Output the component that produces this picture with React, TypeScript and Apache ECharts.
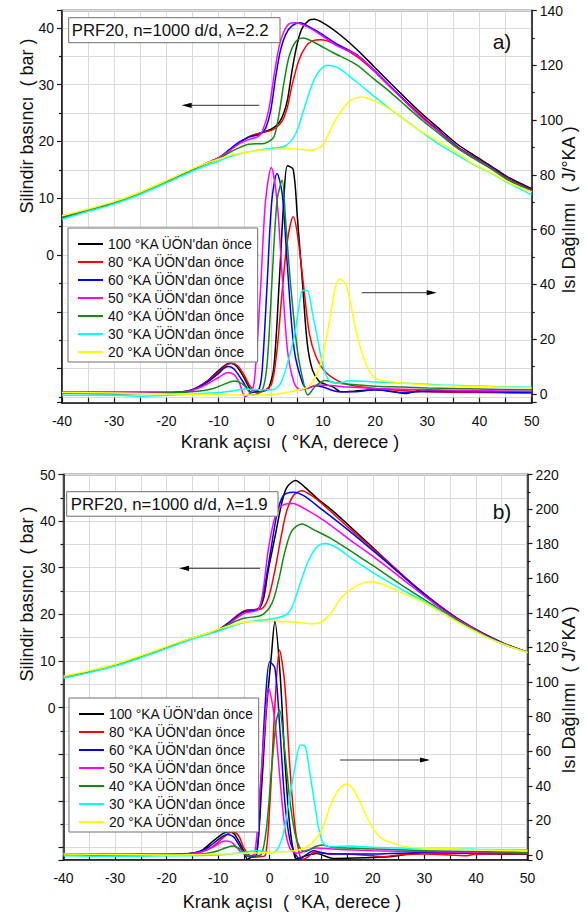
import React, { useEffect, useRef } from "react";
import * as echarts from "echarts";

const FONT = "'Liberation Sans', Arial, sans-serif";

const seriesNames = [
  "100 °KA ÜÖN'dan önce",
  "80 °KA ÜÖN'dan önce",
  "60 °KA ÜÖN'dan önce",
  "50 °KA ÜÖN'dan önce",
  "40 °KA ÜÖN'dan önce",
  "30 °KA ÜÖN'dan önce",
  "20 °KA ÜÖN'dan önce",
];
const seriesColors = ["#000000", "#ff0000", "#0000ff", "#ff00ff", "#138a13", "#00ffff", "#ffff00"];

// ---------- panel a) pressure (bar) ----------
const aP100 = [[-40,6.6],[-35,7.9],[-30,9.2],[-25,10.9],[-20,12.9],[-15,15.0],[-12,16.3],[-10,17.1],[-8,18.4],[-6,19.8],[-4,20.9],[-2,21.5],[0,22.1],[1.5,23.2],[2.5,25.0],[3.2,27.3],[4.1,32.6],[5.1,37.3],[6,39.9],[7.3,41.3],[8.3,41.5],[10.5,40.6],[13.5,38.6],[16.6,36.1],[19.75,33.2],[23,30.2],[26.2,27.3],[29.3,24.6],[32.6,22.0],[35.75,19.5],[38.9,17.6],[42,15.8],[45.3,13.8],[50,11.7]];
const aP80 = [[-40,6.6],[-35,7.9],[-30,9.2],[-25,10.9],[-20,12.9],[-15,15.0],[-12,16.3],[-10,17.1],[-8,18.4],[-6,19.8],[-4,20.9],[-2,21.5],[0,21.9],[1,22.4],[2.2,23.6],[3.2,26.1],[4.1,30.0],[5.4,34.3],[6.7,36.7],[8,37.7],[9.6,37.9],[12.4,37.1],[16.6,34.9],[19.75,32.4],[23,29.5],[26.2,26.8],[29.3,24.2],[32.6,21.6],[35.75,19.1],[38.9,17.3],[42,15.6],[45.3,13.6],[50,11.5]];
const aP60 = [[-40,6.6],[-35,7.9],[-30,9.2],[-25,10.9],[-20,12.9],[-15,15.0],[-12,16.3],[-10,17.1],[-8,18.5],[-6,19.9],[-4,20.8],[-2,21.3],[-1,22.3],[0,25.5],[0.95,31.4],[1.9,36.2],[2.9,38.9],[4.1,40.4],[5.7,40.9],[7.3,40.2],[9.8,38.9],[12.4,37.3],[16.6,35.2],[19.75,32.6],[23,29.6],[26.2,26.7],[29.3,24.0],[32.6,21.5],[35.75,19.0],[38.9,17.2],[42,15.5],[45.3,13.5],[50,11.4]];
const aP50 = [[-40,6.6],[-35,7.9],[-30,9.2],[-25,10.9],[-20,12.9],[-15,15.0],[-12,16.3],[-10,17.1],[-8,18.3],[-6,19.6],[-4,20.4],[-2.5,20.8],[-1.6,21.8],[-0.4,25.5],[0.6,31.4],[1.6,36.7],[2.5,39.3],[3.5,40.7],[4.8,40.9],[6.7,40.3],[9.2,39.0],[12.4,37.0],[16.6,35.1],[19.75,32.5],[23,29.5],[26.2,26.6],[29.3,23.9],[32.6,21.4],[35.75,18.9],[38.9,17.1],[42,15.4],[45.3,13.4],[50,11.3]];
const aP40 = [[-40,6.6],[-35,7.9],[-30,9.2],[-25,10.9],[-20,12.9],[-15,15.0],[-12,16.2],[-10,16.9],[-8,18.0],[-6,18.9],[-4.2,19.5],[-2,19.6],[-1,19.7],[0.6,20.8],[1.6,24.9],[2.5,30.2],[3.5,34.9],[4.8,37.6],[6.2,38.2],[8,37.6],[11.8,35.7],[16.4,33.5],[19.75,31.0],[23,28.6],[26.2,26.0],[29.3,23.5],[32.6,21.1],[35.75,18.8],[38.9,17.0],[42,15.3],[45.3,13.3],[50,11.2]];
const aP30 = [[-40,6.3],[-35,7.7],[-30,9.0],[-25,10.7],[-20,12.7],[-15,14.8],[-12,15.9],[-10.6,16.3],[-8,17.3],[-4.2,18.2],[0.3,18.8],[2.8,19.2],[4.8,21.4],[6.3,25.5],[8,30.2],[9.5,32.6],[11,33.4],[13,32.9],[16.4,30.5],[20,27.8],[23,25.6],[26.2,23.5],[29.3,21.4],[32.6,19.3],[35.75,17.6],[38.9,15.9],[42,14.5],[45.3,12.8],[50,10.6]];
const aP20 = [[-40,6.9],[-35,8.1],[-30,9.4],[-25,11.1],[-20,13.1],[-15,15.2],[-12,16.3],[-10.6,16.7],[-8,17.5],[-4,18.2],[0.3,18.6],[4,18.7],[8,18.5],[9.5,19.0],[10.2,19.7],[12.4,23.8],[15,27.0],[17.5,27.8],[20.1,27.0],[23,25.6],[26.2,23.4],[29.3,21.5],[32.6,19.7],[35.75,18.0],[38.9,16.0],[42,14.6],[45.3,12.9],[50,11.1]];

// ---------- panel a) heat release (J/°KA) ----------
const aH100 = [[-40,0.5],[-30,0.5],[-20,0.5],[-16,1],[-14,2.5],[-12,5],[-10,8.5],[-8.5,10.8],[-7.7,11.2],[-6.5,10],[-5,5.5],[-4,2],[-3,1],[-2.2,0.8],[-1,1.2],[-0.4,2],[0.6,9.9],[1.6,40],[2.5,70.5],[3.2,83.3],[4.3,82],[5.1,64.5],[6.1,40],[7,18.4],[8,8.7],[9.3,4.5],[10.5,3.5],[12,2.5],[13.4,0.8],[16,1],[20,1.5],[23,1],[26,0.2],[29,1.5],[35,1],[40,1],[45,0.8],[50,0.8]];
const aH80 = [[-40,0.5],[-30,0.5],[-20,0.5],[-16,1],[-14,2.3],[-12,4.8],[-10,8],[-8.5,10.5],[-7.5,11.2],[-6.3,10.2],[-5,6.5],[-4,3],[-2.6,0.5],[-1,1.5],[0.2,3.9],[1.2,16],[2.2,37.8],[3.2,56],[4.3,64.7],[5.1,58.5],[6.2,41],[7.4,22],[8.7,13.5],[10.6,7.8],[13.5,4.2],[16.8,2.7],[23,1.5],[30,0.8],[40,0.5],[50,0.3]];
const aH60 = [[-40,0.5],[-30,0.5],[-20,0.5],[-16,1],[-14,2.3],[-12,4.5],[-10,7.5],[-8.8,9.6],[-8,10],[-7,9],[-5.5,5],[-4.5,2],[-3.5,0.5],[-2.2,2],[-1.6,9.9],[-0.7,40],[0.2,70.5],[1.2,80.5],[2.2,73],[3.2,46.3],[4.5,16],[6.1,3.9],[7,2],[8.5,3],[10,2.5],[13,0.8],[16,0.8],[20,1.5],[25,0.5],[30,1],[40,0.8],[50,0.5]];
const aH50 = [[-40,0.5],[-30,0.5],[-20,0.5],[-16,0.8],[-14,2],[-12,3.8],[-10,6],[-8.2,7.8],[-7,7],[-6,4],[-4.9,-1],[-3.5,1.5],[-2.9,10],[-1.9,40.2],[-1,70.5],[0.1,82.7],[1.2,70.5],[2.2,42.7],[3.2,16],[4.5,3.9],[5.7,1.5],[7.9,2.7],[9,3.3],[12,3],[15,2.5],[20,2],[30,1.5],[40,1.2],[50,1]];
const aH40 = [[-40,0.3],[-30,0],[-20,0.3],[-14,1],[-11,2],[-9,3.5],[-6.9,4.7],[-5,3],[-3.5,-0.4],[-1.6,1.5],[-0.7,11],[0.2,40],[1.2,70.5],[2.2,78],[2.8,64.5],[3.8,40],[5.1,16],[6.3,3.9],[7.1,-0.4],[8.5,2.7],[10.4,4.9],[12,4.2],[15,3.5],[20,2.8],[25,2.5],[30,2.2],[40,1.8],[50,1.5]];
const aH30 = [[-40,-0.5],[-30,-0.5],[-25,-0.8],[-20,-0.5],[-15,0],[-10,0.5],[-7,1.2],[-5,1.8],[-2,1.5],[0.3,1.5],[1.9,3.9],[3.2,11.2],[4.5,20.9],[5.4,31.8],[6.1,37.8],[7.0,37.8],[7.9,30.5],[8.9,20.9],[9.9,11.2],[11.1,5.1],[13,3.9],[15,4.8],[20,4.4],[25,4],[32.6,3.3],[42.8,2.7],[50,2.4]];
const aH20 = [[-40,0.5],[-30,0.3],[-20,0],[-10,-0.3],[-1,-0.4],[3,0.5],[5.4,1.5],[7.3,2.7],[8.9,7.5],[10.2,16],[11.4,28.2],[12.4,39.1],[13.2,42],[14.3,40.3],[15.3,33],[16.3,23.3],[17.5,14.8],[18.8,8.7],[20.1,5.7],[22.6,4.5],[25.8,3.9],[30,3.3],[40,2.7],[50,2.2]];

// ---------- panel b) pressure (bar) ----------
const bP100 = [[-40,6.5],[-35,7.7],[-30,9.1],[-25,10.9],[-20,12.9],[-15,14.9],[-12,15.9],[-10,16.6],[-8,18.2],[-6,20.0],[-4.8,20.8],[-2.2,21.2],[-1.2,23.4],[-0.3,29.4],[1.0,36.5],[2.3,43.7],[3.3,47.2],[5,48.7],[6.9,47.2],[9.4,44.7],[12,42.4],[16.8,37.6],[20.1,34.2],[23.3,30.9],[26.5,27.7],[29.8,24.6],[33,21.8],[36.2,19.3],[39.5,17.1],[42.7,15.2],[46,13.5],[50,11.9]];
const bP80 = [[-40,6.5],[-35,7.7],[-30,9.1],[-25,10.9],[-20,12.9],[-15,14.9],[-12,15.9],[-10,16.6],[-8,18.2],[-6,20.0],[-4.8,20.8],[-1.6,21.2],[-0.3,23.4],[1,29.4],[2.3,37.2],[3.3,42.2],[4.6,45.5],[6.2,46.5],[8.1,45.5],[10.7,43.2],[15.3,38.6],[20.1,34.0],[23.3,30.9],[26.5,27.7],[29.8,24.5],[33,21.7],[36.2,19.2],[39.5,17.0],[42.7,15.1],[46,13.4],[50,11.9]];
const bP60 = [[-40,6.5],[-35,7.7],[-30,9.1],[-25,10.9],[-20,12.9],[-15,14.9],[-12,15.9],[-10,16.6],[-8,18.1],[-6,19.8],[-4.8,20.6],[-2.2,21.1],[-0.9,26.6],[0.1,33],[1.4,41.5],[2.65,45.5],[4.6,46.2],[6.5,45.5],[10.1,42.5],[15.3,38.0],[20.1,33.6],[23.3,30.6],[26.5,27.5],[29.8,24.4],[33,21.6],[36.2,19.1],[39.5,16.9],[42.7,15.1],[46,13.4],[50,11.9]];
const bP50 = [[-40,6.5],[-35,7.7],[-30,9.1],[-25,10.9],[-20,12.9],[-15,14.9],[-12,15.9],[-10,16.6],[-8,17.9],[-6,19.5],[-4.8,20.3],[-2.2,21.1],[-1.2,25.8],[-0.3,33.7],[1,40.8],[2.3,43.3],[4.4,43.8],[7.5,42.2],[10.7,40.0],[15.3,36.2],[20.1,32.4],[23.3,29.7],[26.5,26.9],[29.8,24.1],[33,21.4],[36.2,19.0],[39.5,16.9],[42.7,15.0],[46,13.4],[50,11.9]];
const bP40 = [[-40,6.5],[-35,7.7],[-30,9.1],[-25,10.9],[-20,12.9],[-15,14.9],[-12,15.9],[-10,16.5],[-8,17.8],[-4.8,19.2],[-1.6,19.8],[0.4,22.3],[1.7,27.2],[3,33.7],[4.3,37.9],[6.2,39.4],[8.8,38.0],[12,36.2],[16.5,33.0],[20.1,30.4],[23.3,28.0],[26.5,25.6],[29.8,23.3],[33,21.0],[36.2,18.8],[39.5,16.7],[42.7,14.9],[46,13.3],[50,11.9]];
const bP30 = [[-40,6.3],[-35,7.5],[-30,8.9],[-25,10.7],[-20,12.7],[-15,14.7],[-12,15.7],[-10,16.4],[-4.8,18.3],[0.3,19.0],[3,19.8],[4.3,21.5],[5.9,26.6],[7.5,31.5],[9.1,34.4],[10.7,35.2],[12.7,34.5],[16.5,31.5],[20.1,28.9],[23.3,26.8],[26.5,24.8],[29.8,22.9],[33,20.8],[36.2,18.6],[39.5,16.6],[42.7,14.8],[46,13.3],[50,11.8]];
const bP20 = [[-40,6.7],[-35,7.9],[-30,9.3],[-25,11.1],[-20,13.1],[-15,15.0],[-12,16.0],[-10,16.8],[-5,18.3],[0,18.5],[5,18.3],[8,18.0],[10,18.3],[12,20.5],[14,23.7],[17,26.2],[19.5,27.0],[22,26.4],[25.3,24.8],[29.8,22.6],[33,20.6],[36.2,18.5],[39.5,16.5],[42.7,14.8],[46,13.3],[50,11.8]];

// ---------- panel b) heat release (J/°KA) ----------
const bH100 = [[-40,0.5],[-30,0.3],[-20,0.3],[-15,1],[-13,3],[-11,8],[-9,12.5],[-8,13.5],[-7,12.5],[-6,8],[-5,2],[-4.3,-2.5],[-3.5,-1],[-2.6,-0.5],[-1.6,37.6],[-0.7,81.9],[0.3,114.6],[1.0,135],[2,105],[2.9,57],[3.9,16.4],[4.9,-1.5],[5.5,-2],[7,-0.5],[9.1,0.8],[12.3,-2],[16.8,-1.7],[23.3,-1],[29.8,1.5],[36.2,1],[50,0.5]];
const bH80 = [[-40,0.5],[-30,0.3],[-20,0.3],[-15,0.8],[-13,2],[-11,5],[-9,10],[-8,12.5],[-7.1,13.3],[-6,11],[-5,4],[-4,0],[-3.4,-1.3],[-2,-1],[-0.9,-0.5],[0,28],[1,86],[1.9,118.5],[2.9,99.2],[3.9,51],[4.9,16.4],[5.9,-1],[6.5,-2.5],[7.5,-1],[8.5,1.5],[10,1],[15,0.5],[20,-0.5],[22,-1],[25,0],[30,0.5],[35,0],[38,-0.5],[40,0.5],[50,0.5]];
const bH60 = [[-40,0.5],[-30,0.3],[-20,0.3],[-15,1],[-13,2.5],[-11,6.5],[-9,11],[-8.2,11.9],[-7,10.5],[-6,6],[-5,1.5],[-4,-1],[-2.6,0],[-1.6,47],[-0.9,86],[0,111.7],[1,108],[1.9,76],[2.9,31.8],[3.9,8.7],[4.9,1],[5.8,-2],[7,0],[8.5,2.5],[10,1.5],[12,0.5],[20,0.5],[25,1],[30,1.5],[40,1],[50,0.8]];
const bH50 = [[-40,0.5],[-30,0.3],[-20,0.3],[-15,0.8],[-13,2],[-11,4.5],[-9.5,7.3],[-8.5,8.1],[-7.3,7.2],[-6.3,4],[-5.4,1.3],[-4,-0.5],[-2.9,1],[-1.9,37.6],[-0.9,76],[-0.2,96.3],[0.9,80],[1.9,47],[2.9,16.4],[3.9,3.9],[5.2,1],[7,2.5],[9,4],[12,3.5],[15,3],[20,2.5],[30,2],[40,1.5],[50,1.2]];
const bH40 = [[-40,0.3],[-30,-0.3],[-20,0],[-14,0.5],[-12,1],[-10,2.5],[-8.5,4.2],[-7.1,5.2],[-5.5,3],[-4.5,0],[-3,-0.5],[-1.6,0.5],[-0.6,16.4],[0.4,51],[1.3,78],[1.9,83.8],[2.9,60.7],[3.9,31.8],[4.9,12.5],[5.9,3.9],[6.8,1.9],[8.8,4.8],[10.1,5.8],[12,4.5],[15,4],[20,3.5],[25,3],[30,2.5],[40,2],[50,1.5]];
const bH30 = [[-40,-0.5],[-30,-0.8],[-20,-0.5],[-10,0],[-5,1.5],[-2.5,2.5],[0.6,1.3],[2.3,8.7],[3.6,28],[4.9,51],[6,63.6],[6.9,62.6],[7.8,47],[8.8,28],[9.7,12.5],[10.7,5.8],[12.6,4.8],[15.2,5.2],[20,4.5],[25,4],[30,3.8],[40,3.3],[50,3]];
const bH20 = [[-40,0.5],[-30,0.3],[-20,0],[-10,0.5],[-5,1],[0,1.5],[5.6,2.9],[8.1,6.7],[10.1,14.5],[11.7,28],[13.3,37.6],[14.9,41],[16.5,36.6],[18.2,26],[19.8,16.4],[21.7,9.6],[24.3,6.4],[26.2,4.8],[30,4],[35,3.6],[40,3],[50,2.5]];

const panelAPressure = [aP100, aP80, aP60, aP50, aP40, aP30, aP20];
const panelAHeat = [aH100, aH80, aH60, aH50, aH40, aH30, aH20];
const panelBPressure = [bP100, bP80, bP60, bP50, bP40, bP30, bP20];
const panelBHeat = [bH100, bH80, bH60, bH50, bH40, bH30, bH20];

const xTicks = { min: -40, max: 50, interval: 10 };
const leftRangeA = { min: -26, max: 43.05 };
const rightRangeA = { min: -3.2, max: 140 };
const leftRangeB = { min: -32.7, max: 50 };
const rightRangeB = { min: -2.9, max: 220 };

const AX = "#1a1a1a";
const GRID = "#d9d9d9";

function xAxisFor(gridIndex: number) {
  return {
    type: "value",
    gridIndex,
    position: "bottom",
    min: xTicks.min,
    max: xTicks.max,
    interval: xTicks.interval,
    axisLine: { show: true, onZero: false, lineStyle: { color: AX, width: 1.5 } },
    axisTick: { show: true, inside: true, length: 5, lineStyle: { color: AX, width: 1.2 } },
    minorTick: { show: true, splitNumber: 2, length: 5, lineStyle: { color: AX, width: 1.2 } },
    axisLabel: { fontSize: 14, color: "#111", fontFamily: FONT, margin: 11 },
    splitLine: { show: true, lineStyle: { color: GRID, width: 1 } },
    minorSplitLine: { show: true, lineStyle: { color: GRID, width: 1 } },
  };
}

function leftAxisFor(gridIndex: number, r: { min: number; max: number }) {
  return {
    type: "value",
    gridIndex,
    position: "left",
    min: r.min,
    max: r.max,
    minInterval: 10,
    maxInterval: 10,
    splitNumber: 7,
    axisLine: { show: true, onZero: false, lineStyle: { color: AX, width: 1.5 } },
    axisTick: { show: true, inside: false, length: 5, lineStyle: { color: AX, width: 1.2 } },
    minorTick: { show: true, splitNumber: 2, length: 3, lineStyle: { color: AX, width: 1.2 } },
    axisLabel: {
      fontSize: 14,
      color: "#111",
      fontFamily: FONT,
      margin: 8,
      formatter: (v: number) => (v >= 0 && Math.abs(v % 10) < 1e-6 ? String(v) : ""),
    },
    splitLine: { show: true, lineStyle: { color: GRID, width: 1 } },
    minorSplitLine: { show: true, lineStyle: { color: GRID, width: 1 } },
  };
}

function rightAxisFor(gridIndex: number, r: { min: number; max: number }) {
  return {
    type: "value",
    gridIndex,
    position: "right",
    min: r.min,
    max: r.max,
    minInterval: 20,
    maxInterval: 20,
    splitNumber: 7,
    axisLine: { show: true, onZero: false, lineStyle: { color: AX, width: 1.5 } },
    axisTick: { show: true, inside: false, length: 5, lineStyle: { color: AX, width: 1.2 } },
    minorTick: { show: true, splitNumber: 2, length: 3, lineStyle: { color: AX, width: 1.2 } },
    axisLabel: {
      fontSize: 14,
      color: "#111",
      fontFamily: FONT,
      margin: 8,
      formatter: (v: number) => (v >= 0 && Math.abs(v % 20) < 1e-6 ? String(v) : ""),
    },
    splitLine: { show: false },
  };
}

function lineSeries(name: string, color: string, data: number[][], xAxisIndex: number, yAxisIndex: number) {
  return {
    type: "line",
    name,
    data,
    xAxisIndex,
    yAxisIndex,
    showSymbol: false,
    symbol: "none",
    smooth: 0.3,
    lineStyle: { color, width: 1.5 },
    itemStyle: { color },
    emphasis: { disabled: true },
    z: 3,
  };
}

const legendText = { fontSize: 13.8, color: "#111", fontFamily: FONT, lineHeight: 14 };

function legendFor(left: number, top: number) {
  return {
    data: seriesNames.map((n) => ({ name: n, textStyle: legendText })),
    orient: "vertical",
    left,
    top,
    icon: "rect",
    itemWidth: 25,
    itemHeight: 2,
    itemGap: 4,
    padding: [9, 5, 3, 10],
    backgroundColor: "#ffffff",
    borderColor: "#6e6e6e",
    borderWidth: 1,
    selectedMode: false,
    textStyle: legendText,
    z: 10,
  };
}

function arrow(x1: number, x2: number, y: number, headLeft: boolean) {
  const tip = headLeft ? x1 : x2;
  const base = headLeft ? x1 + 10 : x2 - 10;
  return [
    { type: "line", shape: { x1: headLeft ? x1 + 8 : x1, y1: y, x2: headLeft ? x2 : x2 - 8, y2: y }, style: { stroke: "#333", lineWidth: 1 }, z: 20 },
    { type: "polygon", shape: { points: [[tip, y], [base, y - 2.6], [base, y + 2.6]] }, style: { fill: "#000" }, z: 20 },
  ];
}

function vText(text: string, x: number, y: number) {
  return {
    type: "text",
    x,
    y,
    rotation: Math.PI / 2,
    style: { text, fontSize: 18, fontFamily: FONT, fill: "#111", align: "center", verticalAlign: "middle" },
    z: 20,
  };
}

function hText(text: string, x: number, y: number, size: number, align = "center") {
  return {
    type: "text",
    x,
    y,
    style: { text, fontSize: size, fontFamily: FONT, fill: "#111", align, verticalAlign: "middle" },
    z: 20,
  };
}

export default function App() {
  const ref = useRef<HTMLDivElement>(null);

  useEffect(() => {
    if (!ref.current) return;
    const chart = echarts.init(ref.current, undefined, { renderer: "svg" });

    const series: any[] = [];
    seriesNames.forEach((n, i) => series.push(lineSeries(n, seriesColors[i], panelAPressure[i], 0, 0)));
    seriesNames.forEach((n, i) => series.push(lineSeries(n, seriesColors[i], panelAHeat[i], 0, 1)));
    seriesNames.forEach((n, i) => series.push(lineSeries(n, seriesColors[i], panelBPressure[i], 1, 2)));
    seriesNames.forEach((n, i) => series.push(lineSeries(n, seriesColors[i], panelBHeat[i], 1, 3)));

    const option: any = {
      animation: false,
      backgroundColor: "#ffffff",
      textStyle: { fontFamily: FONT },
      grid: [
        { left: 62, right: 54.3, top: 10.5, height: 392.2, show: true, borderColor: AX, borderWidth: 1.5, backgroundColor: "transparent" },
        { left: 63.5, right: 58.5, top: 474.5, height: 385.5, show: true, borderColor: AX, borderWidth: 1.5, backgroundColor: "transparent" },
      ],
      xAxis: [xAxisFor(0), xAxisFor(1)],
      yAxis: [
        leftAxisFor(0, leftRangeA),
        rightAxisFor(0, rightRangeA),
        leftAxisFor(1, leftRangeB),
        rightAxisFor(1, rightRangeB),
      ],
      legend: [legendFor(68, 228), legendFor(69, 698)],
      series,
      graphic: [
        { type: "rect", shape: { x: 68.7, y: 17.7, width: 211.3, height: 25 }, style: { fill: "#fff", stroke: "#6e6e6e", lineWidth: 1 }, z: 19 },
        hText("PRF20, n=1000 d/d, λ=2.2", 71.7, 30.4, 16.8, "left"),
        { type: "rect", shape: { x: 66.7, y: 491.7, width: 211.3, height: 24.5 }, style: { fill: "#fff", stroke: "#6e6e6e", lineWidth: 1 }, z: 19 },
        hText("PRF20, n=1000 d/d, λ=1.9", 70.7, 504.2, 16.8, "left"),
        hText("a)", 502, 41, 21),
        hText("b)", 502, 511, 21),
        ...arrow(181.7, 259.3, 105.3, true),
        ...arrow(361.7, 436.7, 292.7, false),
        ...arrow(179, 260, 568.3, true),
        ...arrow(340, 430, 760, false),
        vText("Silindir basıncı  ( bar )", 27, 126),
        vText("Isı Dağılımı  ( J/°KA )", 569, 210),
        vText("Silindir basıncı  ( bar )", 27, 594),
        vText("Isı Dağılımı  ( J/°KA )", 569, 690),
        hText("Krank açısı  ( °KA, derece )", 290, 442, 18),
        hText("Krank açısı  ( °KA, derece )", 292, 902, 18),
      ],
    };

    chart.setOption(option);
    return () => chart.dispose();
  }, []);

  return <div ref={ref} style={{ position: "absolute", left: 0, top: 0, width: 586, height: 916 }} />;
}
